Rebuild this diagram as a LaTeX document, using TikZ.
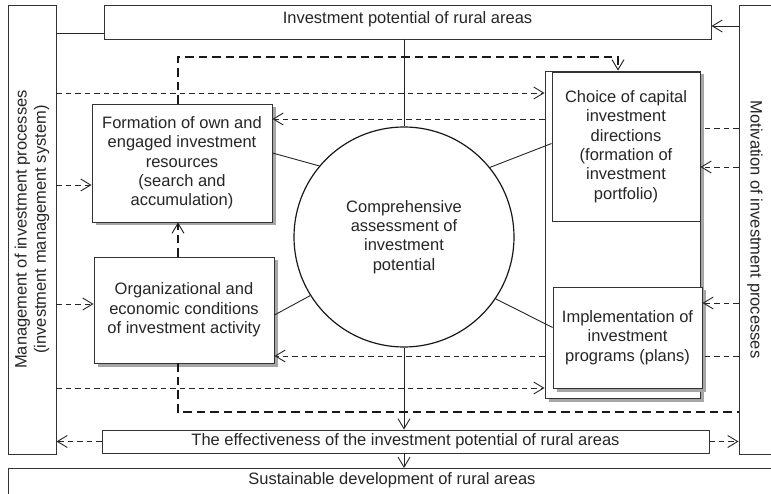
\documentclass[tikz,border=0pt]{standalone}
\usepackage{fontspec}
\setmainfont{Liberation Sans}
\usetikzlibrary{arrows.meta,shadows}

\tikzset{
  box/.style={draw=black!80, line width=0.9pt, fill=white, align=center, inner sep=1pt, text=black!85,
    font=\fontsize{16.5}{19.3}\selectfont},
  boxshadow/.style={drop shadow={shadow xshift=3.5pt, shadow yshift=-3.5pt, fill=black!35, opacity=1}},
  thindash/.style={draw=black!85, line width=0.9pt, dash pattern=on 5.5pt off 4pt},
  heavydash/.style={draw=black!90, line width=1.8pt, dash pattern=on 8.5pt off 5pt},
  link/.style={draw=black!85, line width=0.9pt},
  >={Straight Barb[length=10pt,width=12pt,line width=0.9pt]}
}

\begin{document}
\begin{tikzpicture}[x=1pt,y=-1pt]
  \useasboundingbox (0,0) rectangle (771,494);

  % side frames
  \node[box, rotate=90, minimum width=449pt, minimum height=48pt] (mgmt) at (32,229.5)
    {Management of investment processes\\(investment management system)};
  \node[box, rotate=-90, minimum width=449pt, minimum height=32pt] (motiv) at (755,229.5)
    {Motivation of investment processes};

  % top and bottom bars
  \node[box, minimum width=607pt, minimum height=34pt, text height=12pt, text depth=9pt] (top) at (407.5,22)
    {Investment potential of rural areas};
  \node[box, minimum width=607pt, minimum height=23pt] (eff) at (405.5,441.5)
    {The effectiveness of the investment potential of rural areas};
  \node[box, anchor=north, minimum width=768pt, inner sep=3pt, text height=13pt, text depth=15pt] (sust) at (392,468)
    {Sustainable development of rural areas};

  % left blocks
  \node[box, boxshadow, minimum width=180pt, minimum height=118pt] (form) at (182,163)
    {Formation of own and\\engaged investment\\resources\\(search and\\accumulation)};
  \node[box, boxshadow, minimum width=180pt, minimum height=106pt] (org) at (184,310)
    {Organizational and\\economic conditions\\of investment activity};

  % right blocks
  \node[box, boxshadow, minimum width=155pt, minimum height=327pt] (big) at (622.5,234.5) {};
  \node[box, fill=none, minimum width=148pt, minimum height=149pt] (choice) at (626,146.5)
    {Choice of capital\\investment\\directions\\(formation of\\investment\\portfolio)};
  \node[box, boxshadow, minimum width=149pt, minimum height=101pt] (impl) at (627.5,337.5)
    {Implementation of\\investment\\programs (plans)};

  % centre
  \node[box, circle, line width=1.2pt, draw=black!90, minimum size=220pt] (circ) at (404,237)
    {Comprehensive\\assessment of\\investment\\potential};

  % solid links
  \draw[link] (mgmt.south |- 0,33) -- (top.west |- 0,33);
  \draw[link,->] (motiv.south |- 0,26) -- (top.east |- 0,26);
  \draw[link] (top.south -| circ.north) -- (circ.north);
  \draw[link,->] (circ.south) -- (circ.south |- eff.north);
  \draw[link,->] (eff.south -| circ.south) -- (sust.north -| circ.south);
  \draw[link] ([yshift=10pt]form.east) -- (circ.140.5);
  \draw[link] ([yshift=3pt]choice.west) -- (circ.39.6);
  \draw[link] ([yshift=-5pt]org.east) -- (circ.212);
  \draw[link] ([yshift=10pt]impl.west) -- (circ.326.7);

  % feedback from the effectiveness bar
  \draw[thindash,->] (eff.west) -- (mgmt.south |- eff.west);
  \draw[thindash,->] (eff.east) -- (motiv.south |- eff.east);

  % management side
  \draw[thindash,->] (mgmt.south |- 0,93) -- (big.west |- 0,93);
  \draw[thindash,->] (big.west |- 0,119) -- (form.east |- 0,119);
  \draw[thindash,->] (mgmt.south |- 0,185) -- (form.west |- 0,185);
  \draw[thindash,->] (mgmt.south |- 0,304) -- (org.west |- 0,304);
  \draw[thindash,->] (big.west |- 0,356) -- (org.east |- 0,356);
  \draw[thindash,->] (mgmt.south |- 0,388) -- (big.west |- 0,388);

  % motivation side
  \draw[thindash] (motiv.south |- 0,128) -- (choice.east |- 0,128);
  \draw[thindash,->] (motiv.south |- 0,167) -- (choice.east |- 0,167);
  \draw[thindash,->] (motiv.south |- 0,303) -- (impl.east |- 0,303);
  \draw[thindash] (motiv.south |- 0,356) -- (impl.east |- 0,356);

  % resource loop
  \draw[heavydash,->] (form.north -| 178,0) -- (178,57) -- (618,57) -- (big.north -| 618,0);
  \draw[heavydash,->] (org.north -| 178,0) -- (form.south -| 178,0);
  \draw[heavydash] (org.south -| 178,0) -- (178,412) -- (motiv.south |- 0,412);
\end{tikzpicture}
\end{document}
